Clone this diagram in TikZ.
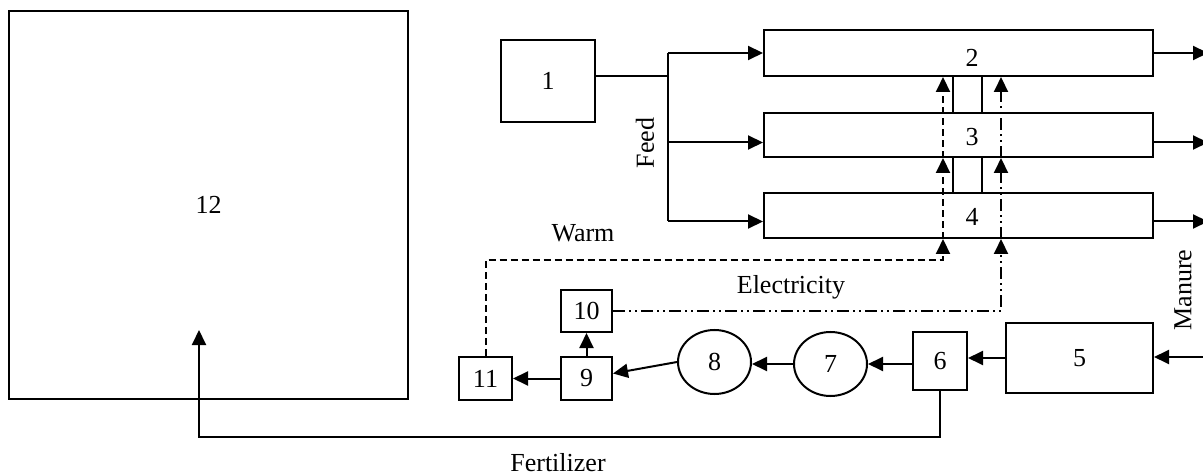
\documentclass[tikz,border=0pt]{standalone}
\usepackage{fontspec}
\setmainfont{Liberation Serif}
\usetikzlibrary{arrows.meta,calc,shapes.geometric}
\tikzset{
  box/.style={draw,line width=1pt,inner sep=0pt},
  oval/.style={ellipse,draw,line width=1pt,inner sep=0pt,minimum width=36.5pt,minimum height=32pt},
  arrow/.style={-{Triangle[length=7.5pt,width=7pt]},line width=1pt},
  warm/.style={line width=1pt,dash pattern=on 3.5pt off 2pt},
  power/.style={line width=1pt,dash pattern=on 6pt off 2pt on 1pt off 2pt on 1pt off 2pt},
}

\begin{document}
\begin{tikzpicture}[x=0.5pt,y=-0.5pt,font=\fontsize{13}{15}\selectfont]
  \useasboundingbox (0,0) rectangle (1203,475);

  % field and feed store
  \node[box,minimum width=199.5pt,minimum height=194pt] (n12) at (208.5,205) {12};
  \node[box,minimum width=47pt,minimum height=41pt] (n1) at (548,81) {1};

  % animal houses
  \foreach \i/\y/\h/\ly/\fy in {2/53/23pt/58/53, 3/135/22pt/137/142.5, 4/215.5/22.5pt/217/221.5}{
    \node[box,minimum width=194.5pt,minimum height=\h] (bar\i) at (958.5,\y) {};
    \node (l\i) at (972,\ly) {\i};
    \coordinate (feed\i) at (668,\fy);
    \coordinate (out\i) at (1208,\fy);
    \draw[arrow] (feed\i) -- (feed\i -| bar\i.west);
    \draw[arrow] (out\i -| bar\i.east) -- (out\i);
  }
  \node[box,minimum width=14.5pt,minimum height=18.5pt] (link23) at (967.5,94.5) {};
  \node[box,minimum width=14.5pt,minimum height=18pt] (link34) at (967.5,175) {};

  \draw[line width=1pt] ($(n1.east)+(0,-5)$) -- (feed2 |- 0,76);
  \draw[line width=1pt] (feed2) -- (feed4);
  \node[rotate=90] (feed) at (645,143) {Feed};

  % biogas line
  \node[box,minimum width=73.5pt,minimum height=35pt] (n5) at (1079.5,358) {5};
  \node[box,minimum width=27pt,minimum height=29pt] (n6) at (940,361) {6};
  \node[oval] (n7) at (830.5,364) {7};
  \node[oval] (n8) at (714.5,362) {8};
  \node[box,minimum width=25.5pt,minimum height=21.5pt] (n9) at (586.5,378.5) {9};
  \node[box,minimum width=25.5pt,minimum height=21pt] (n10) at (586.5,311) {10};
  \node[box,minimum width=26.5pt,minimum height=21.5pt] (n11) at (485.5,378.5) {11};

  \coordinate (manin) at (1214,357);
  \draw[arrow] (manin) -- (manin -| n5.east);
  \node[rotate=90] (manure) at (1183,290) {Manure};
  \draw[arrow] (n5.west) -- (n5.west -| n6.east);
  \draw[arrow] (n6.west |- n7) -- (n7.east);
  \draw[arrow] (n7.west) -- (n7.west -| n8.east);
  \draw[arrow] (n8.west) -- ($(n9.east)+(0,-5)$);
  \draw[arrow] (n9.north) -- (n10.south);
  \draw[arrow] (n9.west) -- (n11.east);

  % heat and power back to the houses
  \coordinate (warmx) at (943,0);
  \coordinate (elecx) at (1001,0);
  \draw[warm,arrow] (n11.north) |- (warmx |- 0,260) -- (bar4.south -| warmx);
  \draw[warm,arrow] (bar4.south -| warmx) -- (bar3.south -| warmx);
  \draw[warm,arrow] (bar3.south -| warmx) -- (bar2.south -| warmx);
  \draw[power,arrow] (n10.east) -| (bar4.south -| elecx);
  \draw[power,arrow] (bar4.south -| elecx) -- (bar3.south -| elecx);
  \draw[power,arrow] (bar3.south -| elecx) -- (bar2.south -| elecx);
  \node (warm) at (583,233) {Warm};
  \node (elec) at (791,287) {Electricity};

  % fertilizer to the field
  \coordinate (fertend) at (199,330);
  \draw[arrow] (n6.south) -- (n6.south |- 0,437) -| (fertend);
  \node (fert) at (558,463) {Fertilizer};
\end{tikzpicture}
\end{document}
